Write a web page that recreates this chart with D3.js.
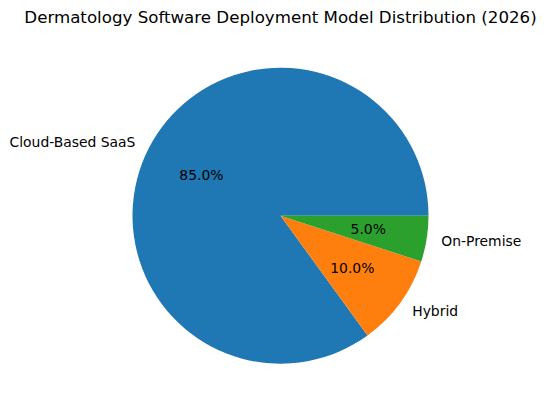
<!DOCTYPE html>
<html>
<head>
<meta charset="utf-8">
<script src="https://cdn.jsdelivr.net/npm/d3@7"></script>
<style>
  body { margin: 0; background: #fff; }
  text { font-family: "DejaVu Sans", sans-serif; fill: #000; }
</style>
</head>
<body>
<div id="chart"></div>
<script>
const categories = ['Cloud-Based SaaS', 'Hybrid', 'On-Premise'];
const shares = [85, 10, 5];
const colors = ['#1f77b4', '#ff7f0e', '#2ca02c'];
const title = 'Dermatology Software Deployment Model Distribution (2026)';

const width = 546, height = 411;
const cx = 280.5, cy = 215.7, radius = 148;

const svg = d3.select('#chart').append('svg')
    .attr('width', width)
    .attr('height', height);

// title
svg.append('text')
    .attr('x', cx)
    .attr('y', 23)
    .attr('text-anchor', 'middle')
    .attr('font-size', '16.67px')
    .text(title);

// matplotlib-style: start at 3 o'clock, go counter-clockwise
const pie = d3.pie()
    .sort(null)
    .value(d => d)
    .startAngle(Math.PI / 2)
    .endAngle(Math.PI / 2 - 2 * Math.PI);

const arc = d3.arc().innerRadius(0).outerRadius(radius);
const arcs = pie(shares);

const g = svg.append('g').attr('transform', `translate(${cx}, ${cy})`);

g.selectAll('path')
    .data(arcs)
    .enter()
    .append('path')
    .attr('fill', (d, i) => colors[i])
    .attr('d', arc);

const mid = d => (d.startAngle + d.endAngle) / 2;
const total = d3.sum(shares);

// category labels at 1.1r
g.selectAll('text.label')
    .data(arcs)
    .enter()
    .append('text')
    .attr('class', 'label')
    .attr('x', d => 1.1 * radius * Math.sin(mid(d)))
    .attr('y', d => -1.1 * radius * Math.cos(mid(d)))
    .attr('dy', '0.35em')
    .attr('font-size', '13.9px')
    .attr('text-anchor', d => Math.sin(mid(d)) > 0 ? 'start' : 'end')
    .text((d, i) => categories[i]);

// percentages at 0.6r
g.selectAll('text.pct')
    .data(arcs)
    .enter()
    .append('text')
    .attr('class', 'pct')
    .attr('x', d => 0.6 * radius * Math.sin(mid(d)))
    .attr('y', d => -0.6 * radius * Math.cos(mid(d)))
    .attr('dy', '0.35em')
    .attr('font-size', '13.9px')
    .attr('text-anchor', 'middle')
    .text(d => (d.value / total * 100).toFixed(1) + '%');
</script>
</body>
</html>
